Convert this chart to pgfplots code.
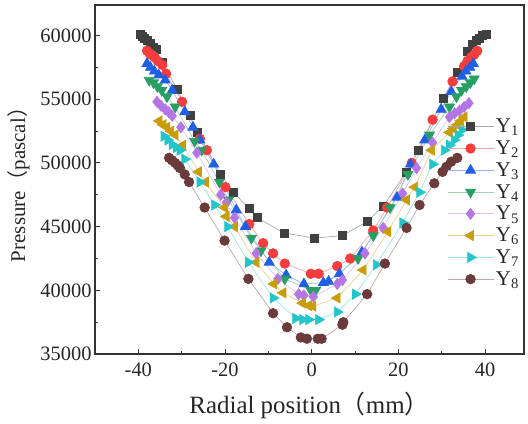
\documentclass[border=0pt]{standalone}
\usepackage{pgfplots}
\pgfplotsset{compat=1.18}
\usepackage{fontspec}
\setmainfont{Liberation Serif}
\newfontfamily\cjk{Noto Sans CJK SC}
\definecolor{c1}{HTML}{404040}
\definecolor{c2}{HTML}{F63C3C}
\definecolor{c3}{HTML}{1E5FE6}
\definecolor{c4}{HTML}{279E62}
\definecolor{c5}{HTML}{B476E4}
\definecolor{c6}{HTML}{C99C08}
\definecolor{c7}{HTML}{22C6CA}
\definecolor{c8}{HTML}{6B3B3B}
\begin{document}
\begin{tikzpicture}
\begin{axis}[
  name=ax,
  scale only axis,
  width=429bp, height=349bp,
  xmin=-50, xmax=49, ymin=35000, ymax=62400,
  xtick={-40,-20,0,20,40},
  ytick={35000,40000,45000,50000,55000,60000},
  minor x tick num=1, minor y tick num=1,
  tick pos=left, tick align=inside,
  major tick length=5bp, minor tick length=3bp,
  axis line style={draw=black!80, line width=1.1pt},
  every tick/.style={black!80, line width=0.9pt},
  scaled y ticks=false,
  /pgf/number format/assume math mode=true,
  /pgf/number format/1000 sep={},
  tick label style={font=\fontsize{20.5}{23}\selectfont, text=black!85},
  xticklabel style={yshift=-5bp},
  label style={text=black!85},
  xlabel={Radial position{\cjk （}mm{\cjk ）}},
  ylabel={Pressure{\cjk （}pascal{\cjk ）}},
  xlabel style={font=\fontsize{25}{28}\selectfont, yshift=-9bp},
  ylabel style={font=\fontsize{21}{24}\selectfont, yshift=4bp},
  legend style={at={(1,0.685)}, anchor=north east, draw=none, fill=none,
    font=\fontsize{21}{24}\selectfont, row sep=2.6bp, text=black!85},
  legend cell align=left,
  legend image code/.code={\draw[mark repeat=2,mark phase=2,#1] plot coordinates {(0bp,0bp) (23bp,0bp) (46bp,0bp)};},
  every axis plot/.append style={line width=0.7pt},
]
\addplot[color=c1!45, mark=square*, mark size=4bp, mark options={draw=c1, fill=c1}] table {
-39.5 60100
-39.0 59950
-38.5 59800
-38.0 59650
-37.3 59400
-36.5 59100
-35.9 58900
-34.5 57900
-31.1 55800
-28.1 53700
-26.3 52400
-21.0 49100
-18.1 47700
-14.4 46400
-12.6 45700
-6.4 44500
0.7 44100
7.1 44300
12.8 45400
16.5 46600
21.9 49300
24.7 51000
30.4 55100
33.6 57100
35.9 58800
37.0 59300
38.0 59600
38.8 59800
39.5 60000
40.2 60100
};
\addlegendentry{Y\textsubscript{1}}
\addplot[color=c2!45, mark=*, mark size=4.8bp, mark options={draw=c2, fill=c2}] table {
-38.0 58800
-37.4 58600
-36.8 58450
-36.3 58300
-35.5 58000
-34.5 57700
-33.6 57000
-29.9 54800
-25.8 51900
-24.2 51000
-19.9 48100
-14.4 45200
-11.2 43700
-8.9 42900
-6.2 42100
-0.2 41300
1.6 41300
5.9 41900
8.9 42500
14.2 44700
17.4 46500
23.1 50000
27.9 53400
32.5 56400
35.2 57600
36.0 58000
36.8 58300
37.5 58500
38.2 58800
};
\addlegendentry{Y\textsubscript{2}}
\addplot[color=c3!45, mark=triangle*, mark size=5.8bp, mark options={draw=c3, fill=c3}] table {
-38.0 57800
-37.2 57500
-36.3 57200
-35.3 56900
-33.8 56500
-32.2 55700
-29.3 54000
-27.4 52800
-25.8 51800
-22.6 49900
-17.4 46300
-15.3 45000
-9.8 42200
-5.9 41200
-1.8 40500
2.7 40600
3.9 40700
6.4 41300
11.6 43000
19.7 47300
22.8 49900
26.1 51800
29.9 54200
32.2 55600
34.7 56800
35.6 57200
36.5 57500
37.3 57800
};
\addlegendentry{Y\textsubscript{3}}
\addplot[color=c4!45, mark=triangle*, mark size=5.8bp, mark options={draw=c4, fill=c4, rotate=180}] table {
-37.5 56500
-36.5 56300
-35.6 56000
-34.6 55700
-33.4 55200
-31.5 54400
-27.0 51700
-25.4 51000
-21.3 48500
-19.2 47100
-13.9 44100
-11.7 43100
-6.2 40900
-0.2 40000
0.9 40000
10.7 42500
14.2 44300
18.1 46500
22.2 49100
27.2 52200
31.8 54400
33.4 55200
34.6 55700
35.7 56000
36.6 56300
37.5 56600
};
\addlegendentry{Y\textsubscript{4}}
\addplot[color=c5!45, mark=diamond*, mark size=5.6bp, mark options={draw=c5, fill=c5}] table {
-35.7 54800
-34.8 54500
-33.8 54200
-33.0 54000
-32.2 53700
-30.2 52800
-26.5 50800
-21.0 47500
-19.7 46900
-17.8 45700
-12.8 42900
-7.8 40900
-3.0 39700
-1.8 39600
0.4 39500
5.9 40500
7.1 40800
12.3 42900
16.5 44900
21.0 47600
24.2 49600
27.9 51600
31.8 53600
33.0 53900
34.1 54100
35.2 54400
36.3 54700
};
\addlegendentry{Y\textsubscript{5}}
\addplot[color=c6!45, mark=triangle*, mark size=5.8bp, mark options={draw=c6, fill=c6, rotate=90}] table {
-35.2 53300
-34.3 53000
-33.4 52800
-32.5 52500
-31.5 52200
-29.7 51400
-26.1 49300
-24.5 48500
-20.1 46500
-19.7 45800
-17.8 45000
-12.8 42200
-8.7 40500
-6.6 39800
-2.1 39000
-0.7 38800
0.3 38750
5.9 39400
11.9 41600
17.6 44600
21.9 47100
23.8 48100
27.7 51000
31.8 52400
32.7 52700
33.6 53000
34.4 53300
35.2 53600
};
\addlegendentry{Y\textsubscript{6}}
\addplot[color=c7!45, mark=triangle*, mark size=5.8bp, mark options={draw=c7, fill=c7, rotate=-90}] table {
-34.1 52100
-33.2 51800
-32.2 51450
-31.3 51200
-30.4 51000
-29.3 50300
-25.8 48500
-22.4 46700
-19.4 45000
-14.6 42200
-8.9 39400
-3.7 37800
-2.1 37700
-0.7 37700
1.6 37700
5.9 38300
10.1 39700
14.9 42000
21.0 45300
24.9 47700
27.9 49900
30.6 51000
31.8 51400
32.9 51800
33.8 52200
34.7 52600
};
\addlegendentry{Y\textsubscript{7}}
\addplot[color=c8!45, mark=*, mark size=4.8bp, mark options={draw=c8, fill=c8}] table {
-32.9 50400
-32.2 50200
-31.5 50000
-30.9 49800
-30.4 49600
-29.3 49100
-28.3 48500
-24.7 46500
-20.1 43900
-14.6 40900
-8.9 38200
-5.7 37100
-2.5 36300
-1.1 36200
1.4 36200
2.3 36200
7.1 37300
7.3 37500
12.8 39700
16.9 42100
21.9 44900
24.9 46700
28.3 48400
30.2 49300
31.1 49700
32.2 50100
33.6 50400
};
\addlegendentry{Y\textsubscript{8}}
\end{axis}
\pgfresetboundingbox
\path ([shift={(-95bp,-69bp)}]ax.south west) rectangle ([shift={(4bp,5bp)}]ax.north east);
\end{tikzpicture}
\end{document}
